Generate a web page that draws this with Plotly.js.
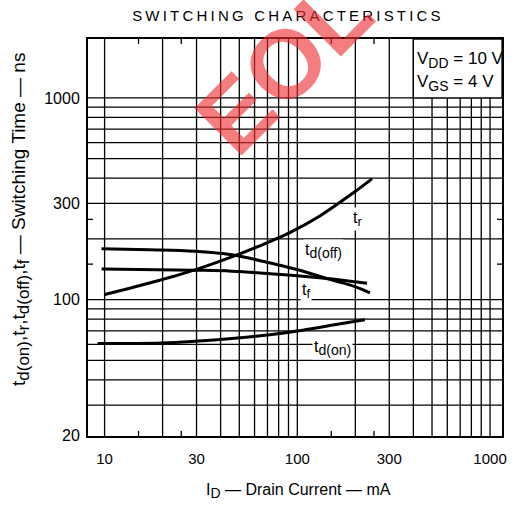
<!DOCTYPE html>
<html><head><meta charset="utf-8">
<script src="https://cdn.plot.ly/plotly-3.0.1.min.js"></script>
<style>html,body{margin:0;padding:0;background:#fff}#chart{width:520px;height:509px}.gtitle{letter-spacing:3.2px}</style>
</head><body><div id="chart"></div>
<script>
// ---- data ----
const tdOnX = [9.2, 19.8, 29.3, 47.3, 72, 99.4, 147.5, 224];
const tdOnY = [60.6, 61.0, 62.2, 64.4, 67.0, 69.9, 74.4, 79.6];
const trX = [10, 17.1, 29.7, 45.7, 63.9, 91.4, 130.9, 199, 244];
const trY = [106, 121, 141, 163, 185, 215, 260, 343, 397];
const tdOffX = [9.65, 17.1, 29.3, 45.7, 66.2, 99.4, 147.5, 199, 238];
const tdOffY = [179, 177, 174, 167, 155, 141, 126, 116, 108];
const tfX = [9.65, 29.3, 45.7, 99.4, 147.5, 219, 230];
const tfY = [142, 140, 138.4, 131.5, 127, 121.4, 120.7];

const xGrid = [10,20,30,40,50,60,70,80,90,100,200,300,400,500,600,700,800,900,1000];
const yGrid = [30,40,50,60,70,80,90,100,200,300,400,500,600,700,800,900,1000];
const xTickVals = [10, 30, 100, 300, 1000];
const xTickText = ["10", "30", "100", "300", "1000"];
const yTickVals = [21.2, 100, 300, 1000];
const yTickText = ["20", "100", "300", "1000"];
const xMinor = [15, 25, 150, 250];
const yMinor = [150, 250];

const xRange = [0.914, 3.062];
const yRange = [Math.log10(21.1), 3.292];

const FONT = "Liberation Sans, Arial, Helvetica, sans-serif";
const sub = (s, px) => '<sub><span style="font-size:' + px + 'px">' + s + '</span></sub>';

const lineStyle = {color: "#000", width: 3, shape: "spline", smoothing: 1};
const traces = [
  {x: tdOnX, y: tdOnY, mode: "lines", line: lineStyle, hoverinfo: "skip"},
  {x: trX, y: trY, mode: "lines", line: lineStyle, hoverinfo: "skip"},
  {x: tdOffX, y: tdOffY, mode: "lines", line: lineStyle, hoverinfo: "skip"},
  {x: tfX, y: tfY, mode: "lines", line: lineStyle, hoverinfo: "skip"}
];

const ph = 509 - 39 - 73, pw = 520 - 88 - 18;
const G = {color: "#000", width: 1.3};
const shapes = [];
xGrid.forEach(v => shapes.push({type: "line", layer: "below", xref: "x", yref: "paper", x0: v, x1: v, y0: 0, y1: 1, line: G}));
yGrid.forEach(v => shapes.push({type: "line", layer: "below", xref: "paper", yref: "y", x0: 0, x1: 1, y0: v, y1: v, line: G}));
xMinor.forEach(v => {
  shapes.push({type: "line", xref: "x", yref: "paper", x0: v, x1: v, y0: 0, y1: 5/ph, line: G});
  shapes.push({type: "line", xref: "x", yref: "paper", x0: v, x1: v, y0: 1, y1: 1 - 5/ph, line: G});
});
yMinor.forEach(v => {
  shapes.push({type: "line", xref: "paper", yref: "y", y0: v, y1: v, x0: 0, x1: 5/pw, line: G});
  shapes.push({type: "line", xref: "paper", yref: "y", y0: v, y1: v, x0: 1, x1: 1 - 5/pw, line: G});
});
// condition box (white, bordered by the 400 and 1000 grid lines)
shapes.push({type: "rect", xref: "x", yref: "y", layer: "below",
  x0: 400, x1: Math.pow(10, xRange[1]), y0: 1000, y1: Math.pow(10, yRange[1]),
  fillcolor: "#fff", line: G});

const lab = (text, lx, ly) => ({text, xref: "x", yref: "y", x: lx, y: ly, showarrow: false,
  font: {family: FONT, size: 16, color: "#000"}, bgcolor: "#fff", borderpad: 1, xanchor: "center", yanchor: "middle"});

const annotations = [
  lab("t" + sub("r", 13), 2.314, 2.401),
  lab("t" + sub("d(off)", 14), 2.138, 2.243),
  lab("t" + sub("f", 13), 2.044, 2.045),
  lab("t" + sub("d(on)", 14), 2.184, 1.762),
  {text: "V" + sub("DD", 14) + " = 10 V", xref: "x", yref: "y", x: 2.61, y: 3.19, xanchor: "left", yanchor: "middle",
   showarrow: false, font: {family: FONT, size: 17, color: "#000"}},
  {text: "V" + sub("GS", 14) + " = 4 V", xref: "x", yref: "y", x: 2.61, y: 3.075, xanchor: "left", yanchor: "middle",
   showarrow: false, font: {family: FONT, size: 17, color: "#000"}},
  {text: "I" + sub("D", 14) + " — Drain Current — mA", xref: "paper", yref: "paper", x: (298-88)/pw, y: (436-491)/ph,
   xanchor: "center", yanchor: "middle", showarrow: false, font: {family: FONT, size: 16, color: "#000"}},
  {text: "t" + sub("d(on)", 17) + ",t" + sub("r", 17) + ",t" + sub("d(off)", 17) + ",t" + sub("f", 17) + " — Switching Time — ns",
   xref: "paper", yref: "paper",
   x: (21-88)/pw, y: (436-220)/ph, textangle: -90, xanchor: "center", yanchor: "middle", showarrow: false,
   font: {family: FONT, size: 19, color: "#000"}},
  {text: "<b>EOL</b>", xref: "paper", yref: "paper", x: (283-88)/pw, y: (436-66)/ph, textangle: -45,
   xanchor: "center", yanchor: "middle", showarrow: false,
   font: {family: FONT, size: 97, color: "rgba(238,45,50,0.62)"}}
];

const layout = {
  width: 520, height: 509,
  margin: {l: 88, r: 18, t: 39, b: 73},
  paper_bgcolor: "#fff", plot_bgcolor: "#fff",
  showlegend: false,
  title: {text: "SWITCHING CHARACTERISTICS", x: 288/520, xref: "container", xanchor: "center",
          y: 1 - 16/509, yref: "container", yanchor: "middle",
          font: {family: FONT, size: 15, color: "#000"}},
  xaxis: {type: "log", range: xRange, tickmode: "array", tickvals: xTickVals, ticktext: xTickText,
    showgrid: false, zeroline: false,
    showline: true, linecolor: "#000", linewidth: 2, mirror: true, ticks: "",
    ticklabelstandoff: 8, tickfont: {family: FONT, size: 15, color: "#000"}},
  yaxis: {type: "log", range: yRange, tickmode: "array", tickvals: yTickVals, ticktext: yTickText,
    showgrid: false, zeroline: false,
    showline: true, linecolor: "#000", linewidth: 2, mirror: true, ticks: "",
    ticklabelstandoff: 3, tickfont: {family: FONT, size: 16, color: "#000"}},
  shapes, annotations
};

Plotly.newPlot("chart", traces, layout, {staticPlot: true, displayModeBar: false});
</script></body></html>
